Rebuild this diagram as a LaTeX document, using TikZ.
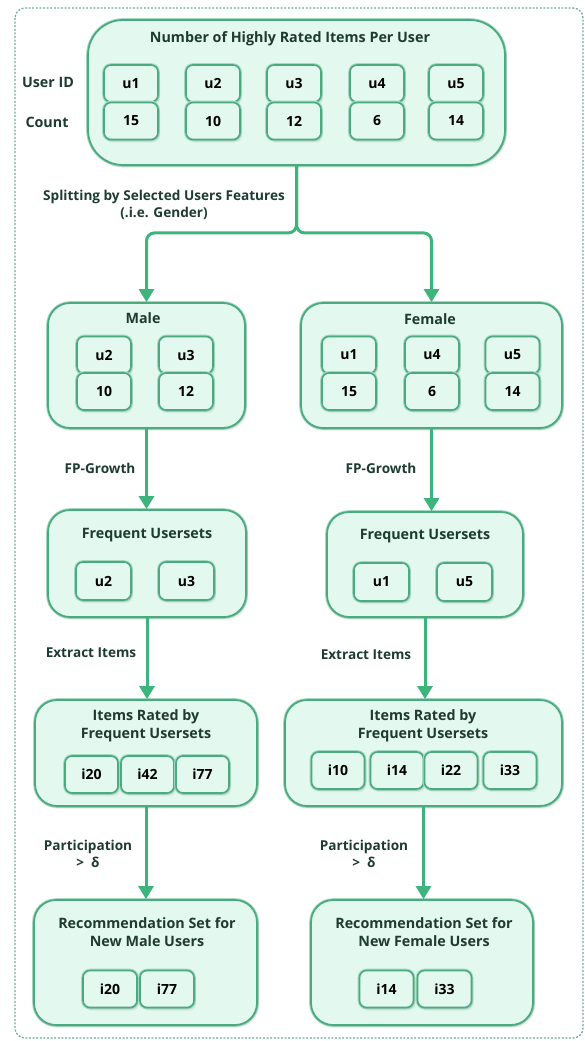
\documentclass[tikz,border=0pt]{standalone}
\usepackage{fontspec}
\setmainfont{Open Sans}
\usetikzlibrary{arrows.meta,shadows}
\definecolor{mint}{HTML}{E3F8EF}
\definecolor{leaf}{HTML}{4BAA7F}
\definecolor{halo}{HTML}{A3D9C0}
\definecolor{flowgreen}{HTML}{3DB47B}
\definecolor{ink}{HTML}{1E3B2F}
\definecolor{framegreen}{HTML}{6FAE96}
\begin{document}
\begin{tikzpicture}[x=1pt,y=-1pt,
  group/.style={draw=leaf, fill=mint, line width=1.8pt, rounded corners=22pt, inner sep=0pt,
    preaction={draw=halo, line width=3.6pt},
    drop shadow={shadow xshift=2pt, shadow yshift=-3pt, opacity=0.12}},
  cell/.style={group, rounded corners=7pt, line width=1.6pt, minimum width=54pt, minimum height=37pt,
    font=\bfseries\fontsize{14}{16}\selectfont, text=black},
  title/.style={font=\bfseries\fontsize{14.3}{18}\selectfont, text=ink, align=center},
  note/.style={font=\bfseries\fontsize{13.6}{17}\selectfont, text=ink, align=center},
  flow/.style={draw=flowgreen, line width=3pt, rounded corners=8pt, -{Triangle[width=15pt,length=13pt]}}]
\useasboundingbox (0,0) rectangle (584,1041);
\draw[framegreen, line width=1.3pt, dash pattern=on 2pt off 1.6pt, rounded corners=10pt] (15,8) rectangle (583,1038);

% all users
\node[group, rounded corners=35pt, minimum width=417pt, minimum height=145pt] (main) at (296.5,92.5) {};
\node[title] (mainTitle) at (290,39) {Number of Highly Rated Items Per User};
\node[title] (userLbl) at (48,82) {User ID};
\node[title] (countLbl) at (47,122) {Count};
\foreach \n/\x/\c in {1/131/15, 2/213/10, 3/294/12, 4/377/6, 5/456/14} {
  \node[cell] (u\n) at (\x,83.5) {u\n};
  \node[cell] (c\n) at (\x,121) {\c};
}

% split by gender
\node[group, minimum width=197pt, minimum height=125pt] (male) at (146.5,365.5) {};
\node[title] (maleTitle) at (143,318) {Male};
\foreach \n/\x/\c in {2/104/10, 3/186/12} {
  \node[cell] (mu\n) at (\x,355) {u\n};
  \node[cell] (mc\n) at (\x,391.5) {\c};
}
\node[group, minimum width=261pt, minimum height=125pt] (female) at (431.5,365.5) {};
\node[title] (femaleTitle) at (430,319) {Female};
\foreach \n/\x/\c in {1/349/15, 4/432/6, 5/512.5/14} {
  \node[cell] (fu\n) at (\x,355) {u\n};
  \node[cell] (fc\n) at (\x,391.5) {\c};
}

% frequent usersets
\node[group, minimum width=198pt, minimum height=107pt] (freqM) at (147,563.5) {};
\node[title] (freqMTitle) at (147,535) {Frequent Usersets};
\node[cell, minimum width=55pt, minimum height=38pt] (su2) at (103.5,581) {u2};
\node[cell, minimum width=55pt, minimum height=38pt] (su3) at (186.5,581) {u3};
\node[group, minimum width=196pt, minimum height=105pt] (freqF) at (425,564.5) {};
\node[title] (freqFTitle) at (425,536) {Frequent Usersets};
\node[cell, minimum width=55pt, minimum height=38pt] (su1) at (381.5,582) {u1};
\node[cell, minimum width=55pt, minimum height=38pt] (su5) at (464.5,582) {u5};

% rated items
\node[group, minimum width=222pt, minimum height=106pt] (itemsM) at (146,753) {};
\node[title] (itemsMTitle) at (146,726) {Items Rated by\\Frequent Usersets};
\foreach \i/\x in {20/91.5, 42/147.5, 77/202.5}
  \node[cell, minimum width=53pt] (mi\i) at (\x,774.5) {i\i};
\node[group, minimum width=277pt, minimum height=106pt] (itemsF) at (423.5,753) {};
\node[title] (itemsFTitle) at (423,726) {Items Rated by\\Frequent Usersets};
\foreach \i/\x in {10/338, 14/397, 22/451, 33/510}
  \node[cell, minimum width=53pt] (fi\i) at (\x,770.5) {i\i};

% recommendations
\node[group, minimum width=223pt, minimum height=125pt] (recM) at (145.5,962.5) {};
\node[title] (recMTitle) at (147,932.5) {Recommendation Set for\\New Male Users};
\node[cell] (ri20) at (110,989) {i20};
\node[cell] (ri77) at (167,989) {i77};
\node[group, minimum width=222pt, minimum height=125pt] (recF) at (422,962.5) {};
\node[title] (recFTitle) at (424,932.5) {Recommendation Set for\\New Female Users};
\node[cell] (ri14) at (386.5,989) {i14};
\node[cell] (ri33) at (444.5,989) {i33};

% connectors
\draw[flow] (main.south) -- ++(0,67) -| (male.north);
\draw[flow] (main.south) -- ++(0,67) -| (female.north);
\node[note] (splitLbl) at (164,204.5) {Splitting by Selected Users Features\\(.i.e. Gender)};
\draw[flow] (male.south) -- (male.south |- freqM.north);
\draw[flow] (female.south) -- (female.south |- freqF.north);
\node[note] (growthM) at (100,468) {FP-Growth};
\node[note] (growthF) at (381,468) {FP-Growth};
\draw[flow] (freqM.south) -- (freqM.south |- itemsM.north);
\draw[flow] (freqF.south) -- (freqF.south |- itemsF.north);
\node[note] (extractM) at (91,653) {Extract Items};
\node[note] (extractF) at (366,655) {Extract Items};
\draw[flow] (itemsM.south) -- (itemsM.south |- recM.north);
\draw[flow] (itemsF.south) -- (itemsF.south |- recF.north);
\node[note] (partM) at (88,853.5) {Participation\\{>}\ \ δ};
\node[note] (partF) at (364,853.5) {Participation\\{>}\ \ δ};
\end{tikzpicture}
\end{document}
